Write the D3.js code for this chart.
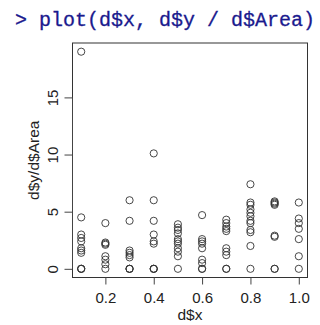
<!DOCTYPE html>
<html><head><meta charset="utf-8">
<script src="https://cdn.jsdelivr.net/npm/d3@7"></script>
<style>body{margin:0;background:#fff}svg{display:block}</style>
</head><body>
<script>
// data: ratio d$y / d$Area per x
const xVals = [0.1,0.2,0.3,0.4,0.5,0.6,0.7,0.8,0.9,1.0];
const col01 = [19.0,4.5,3.0,2.7,2.4,1.8,1.6,1.4,0,0,0];
const col02 = [4.0,2.3,2.2,2.1,1.1,0.8,0.4,0];
const col03 = [6.0,4.2,1.6,1.4,1.2,1.0,0,0,0];
const col04 = [10.1,6.0,4.2,3.0,2.4,2.2,0,0,0];
const col05 = [3.9,3.6,3.4,3.1,2.6,2.4,2.2,1.8,1.5,1.1,0];
const col06 = [4.7,2.6,2.4,2.2,1.8,0.8,0.5,0,0];
const col07 = [4.3,4.0,3.7,3.5,3.3,1.8,1.5,1.2,0,0];
const col08 = [7.4,5.8,5.6,5.2,4.9,4.6,4.2,4.0,3.4,3.2,2.0,0];
const col09 = [5.9,5.8,5.7,5.6,2.9,2.8,0,0];
const col10 = [5.8,4.4,4.0,3.5,2.6,1.1,0];
const xTicks = [0.2,0.4,0.6,0.8,1.0];
const yTicks = [0,5,10,15];
const titleText = "> plot(d$x, d$y / d$Area)";
const xLabel = "d$x", yLabel = "d$y/d$Area";

const cols = [col01,col02,col03,col04,col05,col06,col07,col08,col09,col10];
const points = [];
cols.forEach((c,i)=>c.forEach(v=>points.push({x:xVals[i], y:v})));

const W=320,H=325;
const L=72.5,R=307.5,T=43,B=277.5;
const FONT="Liberation Sans, Arial, Helvetica, sans-serif";
const svg=d3.select("body").append("svg").attr("width",W).attr("height",H);

const xr=[d3.min(xVals),d3.max(xVals)], xe=(xr[1]-xr[0])*0.04;
const yr=[d3.min(points,d=>d.y),d3.max(points,d=>d.y)], ye=(yr[1]-yr[0])*0.04;
const x=d3.scaleLinear().domain([xr[0]-xe,xr[1]+xe]).range([L,R]);
const y=d3.scaleLinear().domain([yr[0]-ye,yr[1]+ye]).range([B,T]);

svg.append("text").attr("x",15).attr("y",26).attr("font-family","Liberation Mono, monospace")
  .attr("font-size",20).attr("fill","#1a1a8e").attr("stroke","#1a1a8e").attr("stroke-width",0.3).text(titleText);

svg.append("rect").attr("x",L).attr("y",T).attr("width",R-L).attr("height",B-T)
  .attr("fill","none").attr("stroke","#333").attr("stroke-width",1);

const xa=svg.append("g").attr("transform",`translate(0,${B})`)
  .call(d3.axisBottom(x).tickValues(xTicks).tickFormat(d3.format(".1f")).tickSize(7).tickPadding(5).tickSizeOuter(0));
xa.select(".domain").remove();
xa.selectAll("line").attr("stroke","#444");
xa.selectAll("text").attr("font-family",FONT).attr("font-size",15).attr("fill","#222")
  .attr("dy",null).attr("y",25);

const ya=svg.append("g").attr("transform",`translate(${L},0)`)
  .call(d3.axisLeft(y).tickValues(yTicks).tickSize(8).tickSizeOuter(0));
ya.select(".domain").attr("d",`M0,${y(yTicks[0])}V${y(yTicks[yTicks.length-1])}`).attr("stroke","#444");
ya.selectAll("line").attr("stroke","#444");
ya.selectAll("text").attr("font-family",FONT).attr("font-size",15).attr("fill","#222")
  .attr("x",null).attr("dy",null).attr("text-anchor","middle")
  .attr("transform","translate(-14.5,0) rotate(-90)");

svg.append("text").attr("x",(L+R)/2).attr("y",320).attr("text-anchor","middle")
  .attr("font-family",FONT).attr("font-size",15.5).attr("fill","#222").text(xLabel);
svg.append("text").attr("transform",`translate(39,${(T+B)/2}) rotate(-90)`).attr("text-anchor","middle")
  .attr("font-family",FONT).attr("font-size",15.5).attr("fill","#222").text(yLabel);

svg.append("g").selectAll("circle").data(points).join("circle")
  .attr("cx",d=>x(d.x)).attr("cy",d=>y(d.y)).attr("r",3.6)
  .attr("fill","none").attr("stroke","#333").attr("stroke-width",0.9);
</script>
</body></html>
